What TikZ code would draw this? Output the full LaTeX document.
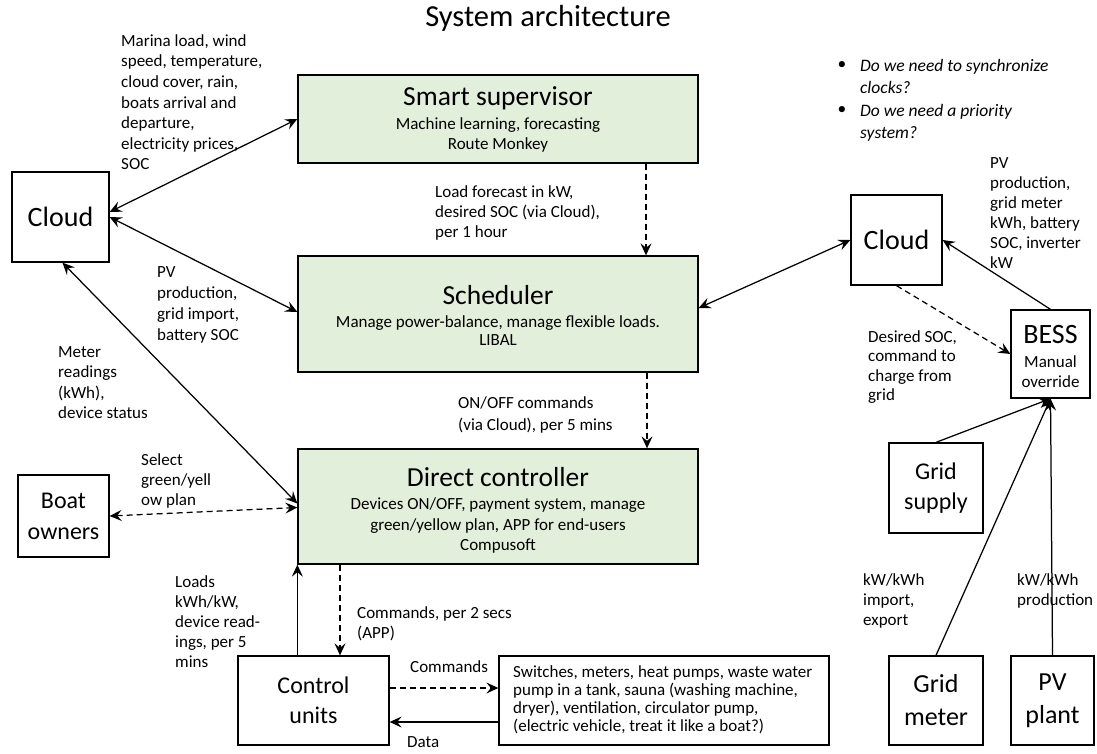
\documentclass[tikz,border=0pt]{standalone}
\usepackage{fontspec}
\setmainfont{Carlito}
\usetikzlibrary{arrows.meta}
\definecolor{boxgreen}{RGB}{226,239,218}
\newcommand{\firstrule}{\rule{0pt}{12.5pt}}
\tikzset{
  arw/.tip={Stealth[length=12pt,width=11pt,inset=4.5pt]},
  box/.style={draw, line width=1.3pt, inner sep=0pt, align=center},
  gbox/.style={box, fill=boxgreen},
  lbl/.style={font=\fontsize{17}{#1}\selectfont, align=left, inner sep=0pt, anchor=north west},
  lbl/.default=20.5,
  ttl/.style={font=\fontsize{27.5}{33}\selectfont, inner sep=0pt},
  sub/.style={font=\fontsize{17}{#1}\selectfont, align=center, inner sep=0pt},
  sub/.default=20,
  link/.style={line width=1.25pt},
  dashline/.style={dash pattern=on 6pt off 4pt}
}
\begin{document}
\begin{tikzpicture}[x=1pt,y=-1pt]
\useasboundingbox (0,0) rectangle (1097,753);

% title
\node[font=\fontsize{30.5}{36}\selectfont, inner sep=0pt] (title) at (548,18) {System architecture};

% main green boxes
\node[gbox, minimum width=400pt, minimum height=88pt] (ss) at (498,119) {};
\node[ttl] (sst) at (498,98) {Smart supervisor};
\node[sub] (sss) at (498,135) {Machine learning, forecasting\\Route Monkey};

\node[gbox, minimum width=400pt, minimum height=116pt] (sch) at (498,314) {};
\node[ttl] (scht) at (498,295) {Scheduler};
\node[sub=18] (schs) at (498,331) {Manage power-balance, manage flexible loads.\\LIBAL};

\node[gbox, minimum width=400pt, minimum height=115pt] (dc) at (498,506.5) {};
\node[ttl] (dct) at (498,477) {Direct controller};
\node[sub=20.5] (dcs) at (498,525.5) {Devices ON/OFF, payment system, manage\\green/yellow plan, APP for end-users\\Compusoft};

% other boxes
\node[box, minimum width=97pt, minimum height=90pt, font=\fontsize{28}{34}\selectfont] (cloudL) at (60.5,217) {Cloud};
\node[box, minimum width=91pt, minimum height=90pt, font=\fontsize{28}{34}\selectfont] (cloudR) at (896.5,240) {Cloud};
\node[box, minimum width=79pt, minimum height=88pt] (bess) at (1050.5,354) {};
\node[font=\fontsize{28}{34}\selectfont, inner sep=0pt] (besst) at (1050.5,335) {BESS};
\node[sub] (besss) at (1050.5,372) {Manual\\override};
\node[box, minimum width=94pt, minimum height=90pt, font=\fontsize{24}{30}\selectfont] (grids) at (936,488) {Grid\\supply};
\node[box, minimum width=94pt, minimum height=89pt, font=\fontsize{26}{33}\selectfont] (gridm) at (936,700.5) {Grid\\meter};
\node[box, minimum width=83pt, minimum height=89pt, font=\fontsize{26}{33}\selectfont] (pv) at (1052.5,700.5) {PV\\plant};
\node[box, minimum width=91pt, minimum height=82pt, font=\fontsize{24}{31}\selectfont] (boat) at (63.5,516) {Boat\\owners};
\node[box, minimum width=151pt, minimum height=89pt, font=\fontsize{24}{30}\selectfont] (cu) at (313.5,700.5) {Control\\units};
\node[box, minimum width=330pt, minimum height=89pt] (dev) at (664,700.5) {};
\node[lbl=18] (devt) at (513,664.5) {\firstrule Switches, meters, heat pumps, waste water\\pump in a tank, sauna (washing machine,\\dryer), ventilation, circulator pump,\\(electric vehicle, treat it like a boat?)};

% labels
\node[lbl=20.6] (l1) at (121,33.5) {\firstrule Marina load, wind\\speed, temperature,\\cloud cover, rain,\\boats arrival and\\departure,\\electricity prices,\\SOC};
\node[lbl=20] (l2) at (435,184.5) {\firstrule Load forecast in kW,\\desired SOC (via Cloud),\\per 1 hour};
\node[lbl=21] (l3) at (157,264.5) {\firstrule PV\\production,\\grid import,\\battery SOC};
\node[lbl=20.4] (l4) at (58,344.5) {\firstrule Meter\\readings\\(kWh),\\device status};
\node[lbl=20] (l5) at (141,452.5) {\firstrule Select\\green/yell\\ow plan};
\node[lbl=22] (l6) at (458,395.5) {\firstrule ON/OFF commands\\(via Cloud), per 5 mins};
\node[lbl=20] (l7) at (175,574.5) {\firstrule Loads\\kWh/kW,\\device read-\\ings, per 5\\mins};
\node[lbl=20] (l8) at (357,605.5) {\firstrule Commands, per 2 secs\\(APP)};
\node[lbl] (l9) at (410,659.5) {\firstrule Commands};
\node[lbl] (l10) at (407,734.5) {\firstrule Data};
\node[lbl=19.5] (l11) at (868,329.5) {\firstrule Desired SOC,\\command to\\charge from\\grid};
\node[lbl=20] (l12) at (990,155.5) {\firstrule PV\\production,\\grid meter\\kWh, battery\\SOC, inverter\\kW};
\node[lbl=20] (l13) at (863,572.5) {\firstrule kW/kWh\\import,\\export};
\node[lbl=20] (l14) at (1017,572.5) {\firstrule kW/kWh\\production};

% bullets
\node[font=\fontsize{17.5}{22}\selectfont, inner sep=0pt] (b1) at (842,65) {•};
\node[font=\fontsize{17.5}{22}\selectfont, inner sep=0pt] (b2) at (842,110) {•};
\node[lbl=22, font=\fontsize{17.5}{22}\selectfont\itshape] (q1) at (860,58.5) {\firstrule Do we need to synchronize\\clocks?};
\node[lbl=22, font=\fontsize{17.5}{22}\selectfont\itshape] (q2) at (860,103.5) {\firstrule Do we need a priority\\system?};

% connectors
\draw[link, arw-arw] ([yshift=5pt]cloudL.east) -- (ss.west);
\draw[link, arw-arw] (cloudL.east) -- ([yshift=2pt]sch.west);
\draw[link, arw-arw] ([xshift=2pt]cloudL.south) -- ([yshift=3pt]dc.west);
\draw[link, dashline, arw-arw] (boat.east) -- ([yshift=-1pt]dc.west);
\draw[link, dashline, -arw] ([xshift=148pt]ss.south) -- ([xshift=148pt]sch.north);
\draw[link, dashline, -arw] ([xshift=149pt]sch.south) -- ([xshift=149pt]dc.north);
\draw[link, dashline, -arw] ([xshift=-158pt]dc.south) -- ([xshift=26.5pt]cu.north);
\draw[link, -arw] (cu.north -| dc.west) -- (dc.south west);
\draw[link, dashline, -arw] ([yshift=12.5pt]cu.east) -- ([yshift=12.5pt]dev.west);
\draw[link, -arw] ([yshift=-21.5pt]dev.west) -- ([yshift=-21.5pt]cu.east);
\draw[link, arw-arw] ([yshift=6pt]sch.east) -- (cloudR.west);
\draw[link, -arw] (bess.north) -- (cloudR.east);
\draw[link, dashline, -arw] (cloudR.south) -- (bess.west);
\draw[link, -arw] (grids.north) -- (bess.south);
\draw[link, -arw] (gridm.north) -- (bess.south);
\draw[link, -arw] (pv.north) -- (bess.south);
\end{tikzpicture}
\end{document}
